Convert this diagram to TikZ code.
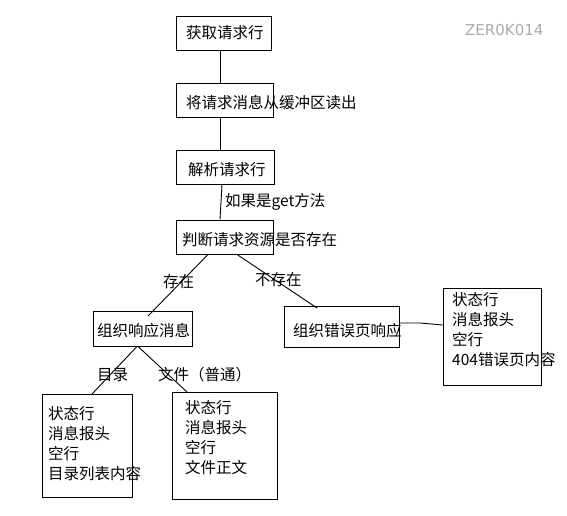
\documentclass[tikz,border=0pt]{standalone}
\usepackage{fontspec}
\setmainfont{Noto Sans CJK SC}
\newfontfamily\wmfont{DejaVu Sans}
\begin{document}
\begin{tikzpicture}[x=1pt,y=-1pt,
  box/.style={draw,line width=0.9pt,inner sep=0pt},
  txt/.style={inner sep=0pt,anchor=west,font=\fontsize{15.5}{20}\selectfont},
  lst/.style={inner sep=0pt,anchor=north west,align=left,font=\fontsize{15.5}{20}\selectfont},
  conn/.style={line width=0.9pt}]
\useasboundingbox[fill=white] (0,0) rectangle (567,515);
% boxes
\node[box,minimum width=95pt,minimum height=34pt] (b1) at (223.5,33) {};
\node[box,minimum width=97pt,minimum height=34pt] (b2) at (224.5,100) {};
\node[box,minimum width=98pt,minimum height=34pt] (b3) at (225,167) {};
\node[box,minimum width=97pt,minimum height=34pt] (b4) at (224.5,237) {};
\node[box,minimum width=99pt,minimum height=35pt] (b5) at (142.5,328.5) {};
\node[box,minimum width=115pt,minimum height=41pt] (b6) at (341.5,326.5) {};
\node[box,minimum width=98pt,minimum height=97pt] (b7) at (492,336.5) {};
\node[box,minimum width=90pt,minimum height=103pt] (b8) at (87,445.5) {};
\node[box,minimum width=105pt,minimum height=107pt] (b9) at (224.5,445.5) {};
% texts
\node[txt] (t1) at (186,33) {获取请求行};
\node[txt] (t2) at (186,103) {将请求消息从缓冲区读出};
\node[txt] (t3) at (188,170) {解析请求行};
\node[txt] (t4) at (182,240) {判断请求资源是否存在};
\node[txt] (t5) at (97,331) {组织响应消息};
\node[txt] (t6) at (293,331) {组织错误页响应};
\node[lst] (t7) at (452,292) {状态行\\消息报头\\空行\\404错误页内容};
\node[lst] (t8) at (48,406) {状态行\\消息报头\\空行\\目录列表内容};
\node[lst] (t9) at (185,400) {状态行\\消息报头\\空行\\文件正文};
% labels
\node[txt] (l1) at (225,202) {如果是get方法};
\node[txt] (l2) at (163,282) {存在};
\node[txt] (l3) at (255,280) {不存在};
\node[txt] (l4) at (97,375) {目录};
\node[txt] (l5) at (158,375) {文件（普通）};
\node[inner sep=0pt,anchor=west,text=black!33,font=\wmfont\fontsize{15}{18}\selectfont] (wm) at (465,30) {ZER0K014};
% connectors
\coordinate (c4a) at ([xshift=-16.5pt]b4.south);
\coordinate (c4b) at ([xshift=12.5pt]b4.south);
\coordinate (c5) at (148,316);
\coordinate (c6) at (317,308);
\coordinate (c5a) at ([xshift=-5.5pt]b5.south);
\coordinate (c5b) at ([xshift=-4.5pt]b5.south);
\coordinate (c8) at (92,394);
\coordinate (c9) at (187,392);
\draw[conn] ([xshift=-3.5pt]b1.south) -- ([xshift=-4.5pt]b2.north);
\draw[conn] ([xshift=-4.5pt]b2.south) -- ([xshift=-5pt]b3.north);
\draw[conn] ([xshift=-3pt]b3.south) -- ([xshift=-4.5pt]b4.north);
\draw[conn] (c4a) -- (c5);
\draw[conn] (c4b) -- (c6);
\draw[conn] (b6.east |- 0,323) -- (420,323) -- (b7.west |- 0,325);
\draw[conn] (c5a) -- (c8);
\draw[conn] (c5b) -- (c9);
\end{tikzpicture}
\end{document}
